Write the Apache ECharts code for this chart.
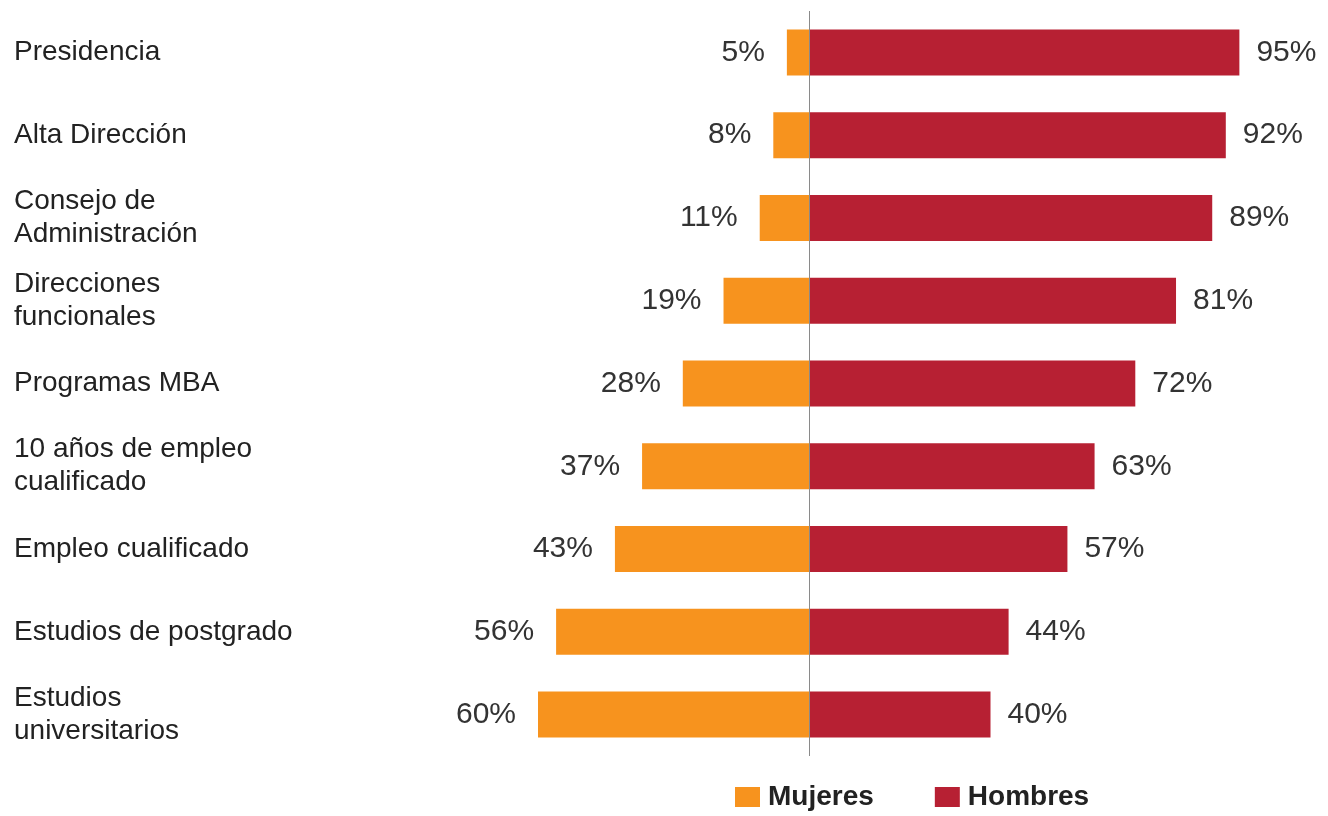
<!DOCTYPE html>
<html>
<head>
<meta charset="utf-8">
<script src="https://cdn.jsdelivr.net/npm/echarts@6/dist/echarts.min.js"></script>
<style>
html,body{margin:0;padding:0;background:#fff;}
#chart{width:1328px;height:816px;}
</style>
</head>
<body>
<div id="chart"></div>
<script>
const categories = [
  'Presidencia',
  'Alta Dirección',
  'Consejo de\nAdministración',
  'Direcciones\nfuncionales',
  'Programas MBA',
  '10 años de empleo\ncualificado',
  'Empleo cualificado',
  'Estudios de postgrado',
  'Estudios\nuniversitarios'
];
const mujeres = [5, 8, 11, 19, 28, 37, 43, 56, 60];
const hombres = [95, 92, 89, 81, 72, 63, 57, 44, 40];
const seriesNames = ['Mujeres', 'Hombres'];

const chart = echarts.init(document.getElementById('chart'));
const font = '"Liberation Sans", Arial, Helvetica, sans-serif';
const gridLeft = 357;
chart.setOption({
  animation: false,
  textStyle: { fontFamily: font },
  grid: { left: gridLeft, width: 905, top: 11, height: 745, containLabel: false },
  xAxis: {
    type: 'value', min: -100, max: 100, show: false
  },
  yAxis: {
    type: 'category', data: categories, inverse: true,
    axisLine: { show: false }, axisTick: { show: false },
    splitLine: { show: false },
    axisLabel: {
      align: 'left', margin: gridLeft - 14,
      fontSize: 28, color: '#222', lineHeight: 33, fontFamily: font
    }
  },
  legend: {
    data: seriesNames, left: 730, top: 778,
    itemWidth: 25, itemHeight: 20, itemGap: 61,
    icon: 'rect',
    textStyle: { fontSize: 28, fontWeight: 'bold', color: '#222', fontFamily: font, padding: [0,0,0,3] }
  },
  series: [
    {
      name: seriesNames[0], type: 'bar', stack: 'total',
      data: mujeres.map(v => -v), barWidth: 46,
      itemStyle: { color: '#F7931E' },
      label: {
        show: true, position: 'left', distance: 22,
        formatter: p => Math.abs(p.value) + '%',
        fontSize: 30, color: '#333', fontFamily: font
      },
      markLine: {
        silent: true, symbol: 'none', label: { show: false },
        lineStyle: { color: '#8a8a8a', width: 1, type: 'solid' },
        data: [{ xAxis: 0 }]
      }
    },
    {
      name: seriesNames[1], type: 'bar', stack: 'total',
      data: hombres, barWidth: 46,
      itemStyle: { color: '#B72033' },
      label: {
        show: true, position: 'right', distance: 17,
        formatter: p => p.value + '%',
        fontSize: 30, color: '#333', fontFamily: font
      }
    }
  ]
});
</script>
</body>
</html>
